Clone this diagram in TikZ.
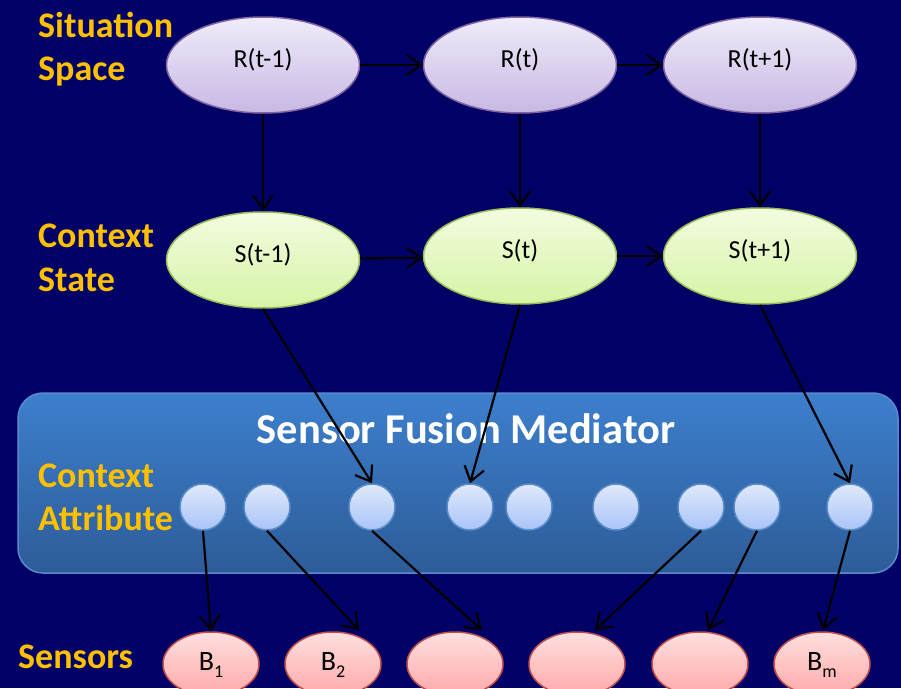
\documentclass[tikz,border=0pt]{standalone}
\usepackage{fontspec}
\setmainfont{Carlito}
\usetikzlibrary{arrows.meta,shapes.geometric,calc}

\definecolor{bgnavy}{RGB}{0,0,102}
\definecolor{lavtop}{RGB}{240,236,250}
\definecolor{lavbot}{RGB}{200,184,228}
\definecolor{lavedge}{RGB}{128,100,162}
\definecolor{grntop}{RGB}{243,252,224}
\definecolor{grnbot}{RGB}{214,244,166}
\definecolor{grnedge}{RGB}{155,187,89}
\definecolor{attrtop}{RGB}{224,233,252}
\definecolor{attrbot}{RGB}{168,196,248}
\definecolor{attredge}{RGB}{92,140,200}
\definecolor{medtop}{RGB}{61,127,205}
\definecolor{medbot}{RGB}{45,92,152}
\definecolor{mededge}{RGB}{88,138,206}
\definecolor{sentop}{RGB}{255,224,224}
\definecolor{senbot}{RGB}{255,168,168}
\definecolor{senedge}{RGB}{192,80,77}
\definecolor{lblorange}{RGB}{255,192,0}

\newcommand\snsub[1]{\raisebox{-7pt}{\fontsize{18}{18}\selectfont #1}}

\begin{document}
\begin{tikzpicture}[x=1pt,y=-1pt,
  rstate/.style={ellipse, draw=lavedge, line width=1.5pt, top color=lavtop, bottom color=lavbot,
    minimum width=193pt, minimum height=96pt, inner sep=0pt,
    font=\fontsize{26}{26}\selectfont, text height=14pt, text depth=10pt},
  sstate/.style={ellipse, draw=grnedge, line width=1.5pt, top color=grntop, bottom color=grnbot,
    minimum width=193pt, minimum height=96pt, inner sep=0pt,
    font=\fontsize{26}{26}\selectfont, text height=14pt, text depth=10pt},
  attr/.style={circle, draw=attredge, line width=1.5pt, top color=attrtop, bottom color=attrbot,
    minimum size=46pt, inner sep=0pt},
  sensor/.style={ellipse, draw=senedge, line width=1.5pt, top color=sentop, bottom color=senbot,
    minimum width=96pt, minimum height=64pt, inner sep=0pt,
    font=\fontsize{28}{28}\selectfont, text height=18pt, text depth=6pt},
  mediator/.style={rectangle, rounded corners=25pt, draw=mededge, line width=1.5pt,
    top color=medtop, bottom color=medbot, minimum width=880pt, minimum height=180pt},
  lbl/.style={anchor=base west, inner sep=0pt, text=lblorange,
    font=\bfseries\fontsize{36}{36}\selectfont},
  link/.style={-{Straight Barb[length=14pt,width=20pt]}, line width=2.2pt, black}
]
\useasboundingbox (0,0) rectangle (901,688);
\clip (0,0) rectangle (901,688);
\fill[bgnavy] (0,0) rectangle (901,688);

% row labels
\node[lbl] (sit1) at (38,37) {Situation};
\node[lbl] (sit2) at (38,80) {Space};
\node[lbl] (cs1) at (38,247) {Context};
\node[lbl] (cs2) at (38,291) {State};

% mediator panel
\node[mediator] (med) at (458,483) {};
\node[anchor=base, inner sep=0pt, text=white, font=\bfseries\fontsize{42.5}{42.5}\selectfont]
  (medtitle) at (466,443) {Sensor Fusion Mediator};
\node[lbl] (ca1) at (38,487) {Context};
\node[lbl] (ca2) at (38,530) {Attribute};
\node[lbl] (sns) at (18,668) {Sensors};

% situation space
\node[rstate] (r1) at (263,65) {R(t-1)};
\node[rstate] (r2) at (520,65) {R(t)};
\node[rstate] (r3) at (760,65) {R(t+1)};

% context states
\node[sstate] (s1) at (263,260) {S(t-1)};
\node[sstate] (s2) at (520,256) {S(t)};
\node[sstate] (s3) at (760,256) {S(t+1)};

% context attributes
\foreach \i/\x in {1/203,2/267,3/372,4/470,5/529,6/616,7/701,8/757,9/850}
  \node[attr] (c\i) at (\x,507) {};

% sensors
\node[sensor] (b1) at (211,664) {B\snsub{1}};
\node[sensor] (b2) at (333,664) {B\snsub{2}};
\node[sensor] (b3) at (455,664) {};
\node[sensor] (b4) at (577,664) {};
\node[sensor] (b5) at (700,664) {};
\node[sensor] (bm) at (822,664) {B\snsub{m}};

% temporal links
\draw[link] (r1) -- (r2);
\draw[link] (r2) -- (r3);
\draw[link] (s1) -- (s2);
\draw[link] (s2) -- (s3);

% situation to state
\draw[link] (r1) -- (s1);
\draw[link] (r2) -- (s2);
\draw[link] (r3) -- (s3);

% state to attributes
\draw[link] (s1.south) -- (c3.north);
\draw[link] (s2.south) -- (c4.north);
\draw[link] (s3.south) -- (c9.north);

% attributes to sensors
\draw[link] (c1.south) -- (b1.north);
\draw[link] (c2.south) -- ($(b2.north)+(26,-1)$);
\draw[link] (c3.south) -- ($(b3.north)+(27,-1)$);
\draw[link] (c7.south) -- ($(b4.north)+(18,-1)$);
\draw[link] (c8.south) -- ($(b5.north)+(8,-1)$);
\draw[link] (c9.south) -- ($(bm.north)+(1,-1)$);
\end{tikzpicture}
\end{document}
